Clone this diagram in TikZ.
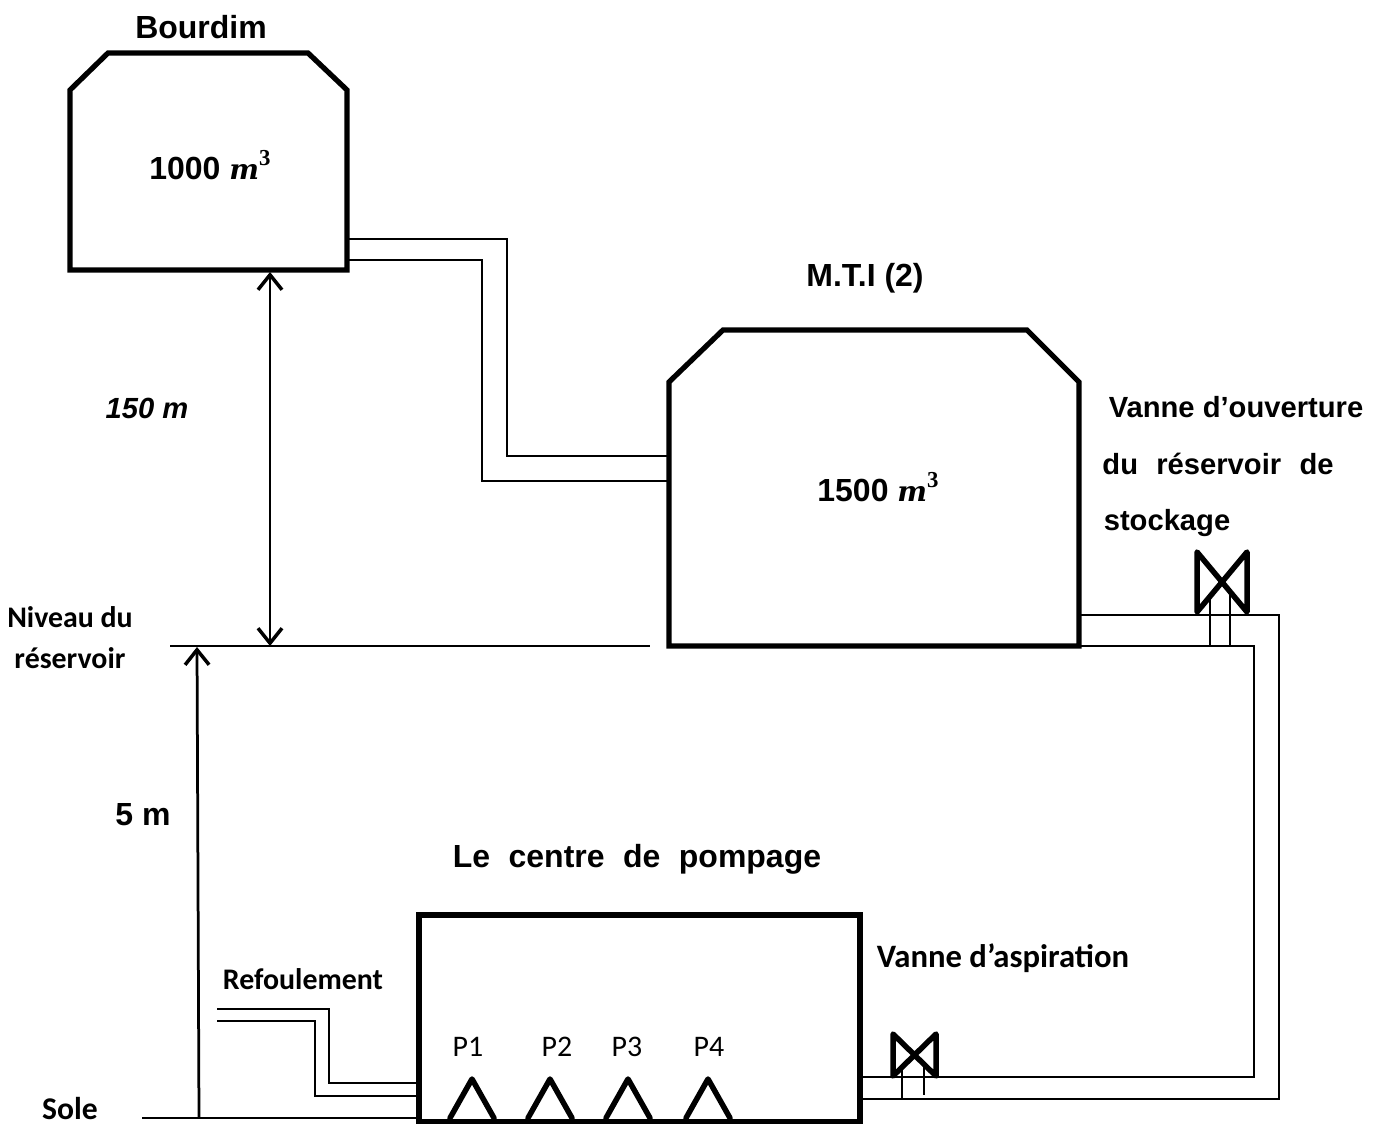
\documentclass[tikz,border=0pt]{standalone}
\usepackage{amsmath,amssymb}
\usepackage{fontspec}
\setmainfont{Liberation Sans}
\newfontfamily\carlito{Carlito}
\newfontfamily\volfont{DejaVu Serif}
\newfontfamily\expfont{Liberation Serif}
\newcommand{\volunit}{{\volfont\bfseries\itshape\fontsize{16}{20}\selectfont m\raisebox{.5em}{\expfont\fontsize{13}{14}\selectfont\upshape 3}}}
\usetikzlibrary{arrows.meta,positioning}
\tikzset{
  tank/.style={line width=1.05mm, line join=miter},
  pipe/.style={line width=.42mm, line join=miter},
  valve/.style={line width=1.1mm, line join=round, line cap=round},
  level/.style={{Straight Barb[length=3mm,width=4.8mm,line width=.7mm]}-{Straight Barb[length=3mm,width=4.8mm,line width=.7mm]}, line width=.55mm},
  uparrow/.style={-{Straight Barb[length=3mm,width=4.8mm,line width=.7mm]}, line width=.55mm},
  heading/.style={font=\fontsize{18.2}{20}\selectfont\bfseries, inner sep=0pt},
  subhead/.style={font=\fontsize{16.6}{20}\selectfont\bfseries, inner sep=0pt},
  label/.style={font=\fontsize{17}{20}\selectfont\carlito\bfseries, inner sep=0pt},
  pump/.style={font=\fontsize{17}{20}\selectfont\carlito, inner sep=0pt}
}

\begin{document}
\begin{tikzpicture}[x=.02cm, y=-.02cm]
    \path[use as bounding box] (0,0) rectangle (1385,1124);

    % tanks
    \draw[tank] (70,270) -- (347,270) -- (347,90) -- (308,53) -- (108,53) -- (70,90) -- cycle;
    \draw[tank] (669,646) -- (1079,646) -- (1079,382) -- (1027,330) -- (723,330) -- (669,382) -- cycle;
    \draw[tank] (419,915) rectangle (860,1122);

    \coordinate (bu) at (347,239);
    \coordinate (bl) at (347,260);
    \coordinate (mu) at (668,456);
    \coordinate (ml) at (668,481);
    \coordinate (ru) at (1079,615);
    \coordinate (rl) at (1079,646);
    \coordinate (cu) at (862,1077);
    \coordinate (cl) at (862,1099);
    \coordinate (fu) at (217,1009);
    \coordinate (fl) at (217,1021);
    \coordinate (pu) at (417,1083);
    \coordinate (pl) at (417,1096);

    % pipes
    \draw[pipe] (bu) -- (507,239) -- (507,456) -- (mu);
    \draw[pipe] (bl) -- (482,260) -- (482,481) -- (ml);
    \draw[pipe] (ru) -- (1279,615) -- (1279,1099) -- (cl);
    \draw[pipe] (rl) -- (1254,646) -- (1254,1077) -- (cu);
    \draw[pipe] (fu) -- (329,1009) -- (329,1083) -- (pu);
    \draw[pipe] (fl) -- (315,1021) -- (315,1096) -- (pl);

    % valves
    \draw[valve] (1197,612) -- (1197,552) -- (1247,612) -- (1247,552) -- cycle;
    \draw[pipe] (1210,600) -- (1210,646);
    \draw[pipe] (1230,595) -- (1230,646);
    \draw[valve] (893,1076) -- (893,1034) -- (936,1076) -- (936,1034) -- cycle;
    \draw[pipe] (902,1068) -- (902,1099);
    \draw[pipe] (924,1066) -- (924,1095);

    % pumps
    \foreach \ax/\lx/\name in {472/468/P1, 550/557/P2, 628/627/P3, 708/709/P4} {
      \draw[valve] (\ax-22,1118) -- (\ax,1079) -- (\ax+22,1118);
      \node[pump] (\name) at (\lx,1047) {\name};
    }

    % levels
    \coordinate (lv1) at (170,646);
    \coordinate (lv2) at (650,646);
    \coordinate (so1) at (142,1118);
    \coordinate (so2) at (419,1118);
    \draw[pipe] (lv1) -- (lv2);
    \draw[pipe] (so1) -- (so2);
    \draw[level] (270,272) -- (270,646);
    \draw[uparrow] (199,1118) -- (197,647);

    \node[heading] (bourdim) at (201,27) {Bourdim};
    \node[heading] (vol1) at (210,165) {1000 \volunit};
    \node[subhead, font=\fontsize{16.6}{20}\selectfont\bfseries\itshape] (h150) at (147,408) {150 m};
    \node[heading] (mti) at (865,278) {M.T.I (2)};
    \node[heading] (vol2) at (878,487) {1500 \volunit};
    \node[subhead] (ouv1) at (1236,407) {Vanne d’ouverture};
    \node[subhead] (ouv2) at (1218,464) {du\hspace{.35em} réservoir\hspace{.35em} de};
    \node[subhead] (ouv3) at (1167,523) {stockage};
    \node[heading] (h5) at (143,815) {5 m};
    \node[heading] (centre) at (637,859) {Le\hspace{.3em} centre\hspace{.3em} de\hspace{.3em} pompage};
    \node[label] (niv1) at (70,617) {Niveau du};
    \node[label] (niv2) at (70,658) {réservoir};
    \node[label, font=\fontsize{18.6}{20}\selectfont\carlito\bfseries] (asp) at (1003,958) {Vanne d’aspiration};
    \node[label] (ref) at (303,979) {Refoulement};
    \node[label, font=\fontsize{18}{20}\selectfont\carlito\bfseries] (sole) at (70,1109) {Sole};
\end{tikzpicture}
\end{document}
